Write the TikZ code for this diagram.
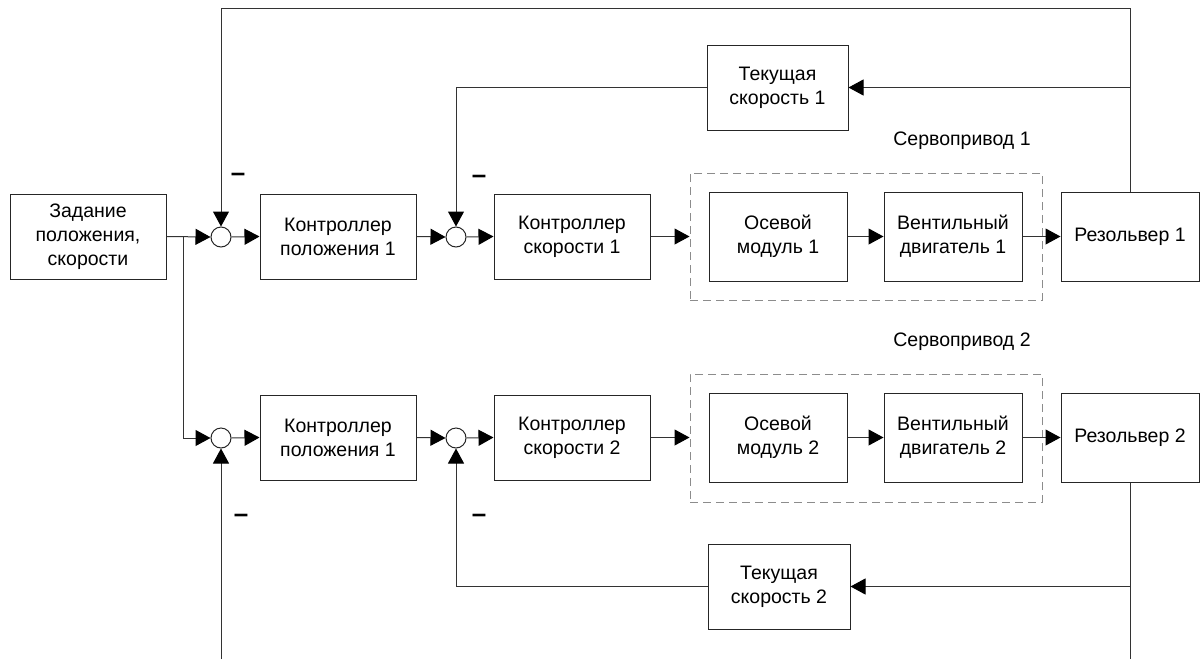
\documentclass[tikz,border=0pt]{standalone}
\usepackage{fontspec}
\setmainfont{Liberation Sans}
\usetikzlibrary{arrows.meta}
\begin{document}
\begin{tikzpicture}[x=1pt,y=-1pt,
  font=\fontsize{19.5}{24}\selectfont,
  line width=1pt,
  blk/.style={draw=black!85, fill=white, align=center, inner sep=0pt,
              minimum width=156pt, minimum height=85pt},
  drv/.style={blk, minimum width=138pt, minimum height=89pt},
  grp/.style={draw=black!45, dash pattern=on 8pt off 5pt, inner sep=0pt},
  sum/.style={circle, draw=black!85, fill=white, inner sep=0pt, minimum size=20pt},
  wire/.style={draw=black!80},
  arr/.style={wire, -{Triangle[length=15pt,width=16pt,color=black]}},
  minus/.style={font=\fontsize{26}{26}\selectfont\bfseries, inner sep=0pt}
]
\useasboundingbox (0,0) rectangle (1201,659);

% servo drive groups
\node[grp, minimum width=352pt, minimum height=127pt] (sv1) at (866,236.5) {};
\node[grp, minimum width=352pt, minimum height=128pt] (sv2) at (866,438) {};
\node (sv1lbl) at (962,141) {Сервопривод 1};
\node (sv2lbl) at (962,342) {Сервопривод 2};

% reference input
\node[blk] (zad) at (88,236.5) {Задание\\положения,\\скорости};

% channel 1
\node[sum] (s1) at (221,237) {};
\node[blk] (kp1) at (338,236.5) {Контроллер\\положения 1};
\node[sum] (s2) at (456,237) {};
\node[blk] (ks1) at (572,236.5) {Контроллер\\скорости 1};
\node[drv] (om1) at (778,236.5) {Осевой\\модуль 1};
\node[drv] (vd1) at (953,236.5) {Вентильный\\двигатель 1};
\node[drv] (rz1) at (1130,236.5) {Резольвер 1};
\node[blk, minimum width=141pt] (ts1) at (777.5,87.5) {Текущая\\скорость 1};

% channel 2
\node[sum] (s3) at (221,438) {};
\node[blk] (kp2) at (338,437.5) {Контроллер\\положения 1};
\node[sum] (s4) at (456,438) {};
\node[blk] (ks2) at (572,437.5) {Контроллер\\скорости 2};
\node[drv] (om2) at (778,437.5) {Осевой\\модуль 2};
\node[drv] (vd2) at (953,437.5) {Вентильный\\двигатель 2};
\node[drv] (rz2) at (1130,437.5) {Резольвер 2};
\node[blk, minimum width=142pt] (ts2) at (779,586.5) {Текущая\\скорость 2};

% helper points
\coordinate (br) at (183,237);
\coordinate (top) at (221,8);
\coordinate (bot1) at (221,659);
\coordinate (bot2) at (1130,659);

% forward paths
\draw[arr] (zad.east) -- (s1.west);
\draw[arr] (br) |- (s3.west);
\draw[arr] (s1.east) -- (kp1.west);
\draw[arr] (kp1.east) -- (s2.west);
\draw[arr] (s2.east) -- (ks1.west);
\draw[arr] (ks1.east) -- (sv1.west |- ks1.east);
\draw[arr] (om1.east) -- (vd1.west);
\draw[arr] (vd1.east) -- (rz1.west);

\draw[arr] (s3.east) -- (kp2.west);
\draw[arr] (kp2.east) -- (s4.west);
\draw[arr] (s4.east) -- (ks2.west);
\draw[arr] (ks2.east) -- (sv2.west |- ks2.east);
\draw[arr] (om2.east) -- (vd2.west);
\draw[arr] (vd2.east) -- (rz2.west);

% position feedback
\draw[arr] (rz1.north) -- (rz1.north |- top) -- (top) -- (s1.north);
\draw[arr] (bot1) -- (s3.south);
\draw[wire] (rz2.south) -- (bot2);

% speed feedback
\draw[arr] (rz1.north |- ts1.east) -- (ts1.east);
\draw[arr] (ts1.west) -| (s2.north);
\draw[arr] (rz2.south |- ts2.east) -- (ts2.east);
\draw[arr] (ts2.west) -| (s4.south);

% negative-feedback signs
\node[minus] (m1) at (238,177) {–};
\node[minus] (m2) at (479,179) {–};
\node[minus] (m3) at (241,518) {–};
\node[minus] (m4) at (479,518) {–};
\end{tikzpicture}
\end{document}
